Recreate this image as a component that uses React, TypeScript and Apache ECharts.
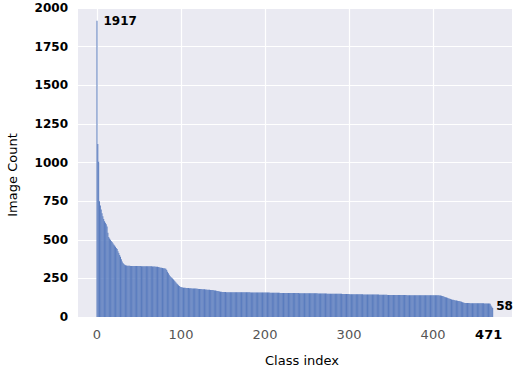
import React, { useEffect, useRef } from "react";
import * as echarts from "echarts";

// Image count per class, sorted descending (class index 0..471)
const counts: number[] = [
  1917, 1120, 1005, 750, 722, 695, 672, 652, 634, 620,
  610, 600, 585, 545, 518, 508, 500, 492, 485, 478,
  470, 462, 455, 447, 440, 426, 414, 401, 390, 374,
  360, 350, 343, 338, 335, 333, 332, 331, 331, 331,
  330, 330, 330, 330, 330, 330, 330, 330, 330, 330,
  330, 330, 330, 329, 329, 329, 329, 329, 329, 329,
  329, 328, 328, 328, 328, 328, 327, 327, 327, 327,
  326, 326, 325, 324, 322, 320, 319, 318, 317, 316,
  315, 314, 312, 305, 293, 283, 273, 265, 259, 254,
  250, 243, 236, 229, 223, 217, 212, 205, 200, 196,
  194, 192, 191, 190, 189, 189, 188, 188, 187, 187,
  186, 186, 186, 185, 185, 185, 184, 184, 184, 183,
  183, 182, 182, 181, 181, 180, 180, 179, 179, 178,
  178, 177, 177, 176, 176, 175, 175, 174, 174, 173,
  172, 171, 170, 169, 168, 166, 165, 164, 163, 162,
  162, 162, 162, 162, 161, 161, 161, 161, 161, 161,
  161, 160, 160, 160, 160, 160, 160, 160, 160, 160,
  160, 160, 160, 160, 160, 160, 160, 160, 160, 160,
  160, 160, 160, 159, 159, 159, 159, 159, 159, 159,
  159, 159, 159, 159, 159, 158, 158, 158, 158, 158,
  158, 158, 158, 158, 158, 158, 157, 157, 157, 157,
  157, 157, 157, 157, 157, 157, 157, 157, 156, 156,
  156, 156, 156, 156, 156, 156, 156, 156, 156, 155,
  155, 155, 155, 155, 155, 155, 155, 155, 155, 155,
  155, 154, 154, 154, 154, 154, 154, 154, 154, 154,
  154, 154, 153, 153, 153, 153, 153, 153, 153, 153,
  153, 153, 153, 152, 152, 152, 152, 152, 152, 152,
  152, 152, 152, 152, 151, 151, 151, 151, 151, 151,
  151, 151, 151, 150, 150, 150, 150, 150, 150, 150,
  150, 150, 149, 149, 149, 149, 149, 149, 149, 149,
  149, 148, 148, 148, 148, 148, 148, 148, 148, 147,
  147, 147, 147, 147, 147, 147, 147, 146, 146, 146,
  146, 146, 146, 146, 146, 146, 145, 145, 145, 145,
  145, 145, 145, 145, 145, 145, 144, 144, 144, 144,
  144, 144, 144, 144, 144, 144, 143, 143, 143, 143,
  143, 143, 143, 143, 143, 143, 143, 142, 142, 142,
  142, 142, 142, 142, 142, 142, 142, 142, 142, 141,
  141, 141, 141, 141, 141, 141, 141, 141, 141, 141,
  141, 141, 141, 141, 140, 140, 140, 140, 140, 140,
  140, 140, 140, 140, 140, 140, 140, 140, 140, 140,
  140, 140, 140, 140, 140, 140, 140, 140, 139, 139,
  138, 136, 134, 132, 130, 128, 126, 124, 122, 120,
  118, 116, 114, 112, 111, 110, 108, 107, 106, 105,
  104, 103, 102, 100, 98, 96, 94, 92, 90, 90,
  90, 90, 90, 90, 89, 89, 89, 89, 89, 89,
  89, 89, 89, 89, 89, 89, 89, 89, 89, 89,
  89, 88, 88, 88, 88, 88, 88, 88, 86, 75,
  66, 58,
];

const xTickLabels: number[] = [0, 100, 200, 300, 400, 471];
const xGridTicks: number[] = [0, 100, 200, 300, 400];
const labelledIndices: number[] = [0, 471];

export default function App() {
  const ref = useRef<HTMLDivElement>(null);

  useEffect(() => {
    if (!ref.current) return;
    const chart = echarts.init(ref.current, undefined, { renderer: "svg" });
    const lastIndex = counts.length - 1;
    const data = counts.map((v, i) => {
      if (labelledIndices.includes(i)) {
        return {
          value: [i, v],
          label: {
            show: true,
            position: ["100%", 0],
            offset: [i === 0 ? 6 : 3, i === 0 ? 0 : -2],
            align: "left",
            verticalAlign: "middle",
            formatter: String(v),
            color: "#000",
            fontWeight: "bold",
            fontSize: 12,
            fontFamily: "DejaVu Sans",
          },
        };
      }
      return { value: [i, v] };
    });

    chart.setOption({
      animation: false,
      backgroundColor: "#ffffff",
      grid: {
        left: 78,
        right: 3,
        top: 8,
        bottom: 50,
        show: true,
        backgroundColor: "#EAEAF2",
        borderWidth: 0,
        containLabel: false,
        outerBoundsMode: "none",
      },
      graphic: [
        {
          type: "text",
          x: 12,
          y: 175,
          rotation: Math.PI / 2,
          style: {
            text: "Image Count",
            fill: "#000",
            fontSize: 13,
            fontFamily: "DejaVu Sans",
            align: "center",
            verticalAlign: "middle",
          },
        },
      ],
      xAxis: {
        type: "value",
        min: -22.6,
        max: 494,
        name: "Class index",
        nameLocation: "middle",
        nameGap: 37,
        nameTextStyle: { color: "#000", fontSize: 13, fontFamily: "DejaVu Sans", padding: [0, 0, 0, 14] },
        axisLine: { show: false },
        axisTick: { show: false, customValues: xGridTicks },
        axisLabel: {
          customValues: xTickLabels,
          margin: 11,
          color: "#555",
          fontSize: 13,
          fontFamily: "DejaVu Sans",
          formatter: (val: number) => (val === lastIndex ? "{b|" + val + "}" : String(val)),
          rich: {
            b: { color: "#000", fontWeight: "bold", fontSize: 13, fontFamily: "DejaVu Sans", padding: [0, 8, 0, 0] },
          },
        },
        splitLine: { show: true, lineStyle: { color: "#ffffff", width: 1.2 } },
      },
      yAxis: {
        type: "value",
        min: 0,
        max: 2000,
        interval: 250,
        axisLine: { show: false },
        axisTick: { show: false },
        axisLabel: {
          color: "#000",
          fontWeight: "bold",
          fontSize: 12,
          fontFamily: "DejaVu Sans",
          margin: 10,
          formatter: (v: number) => String(v),
        },
        splitLine: { show: true, lineStyle: { color: "#ffffff", width: 1.2 } },
      },
      series: [
        {
          type: "bar",
          data,
          barWidth: 0.84,
          itemStyle: { color: "#5a7cbe" },
          clip: true,
        },
      ],
    });
    return () => chart.dispose();
  }, []);

  return <div ref={ref} style={{ width: 515, height: 367, position: "absolute", left: 0, top: 0 }} />;
}
